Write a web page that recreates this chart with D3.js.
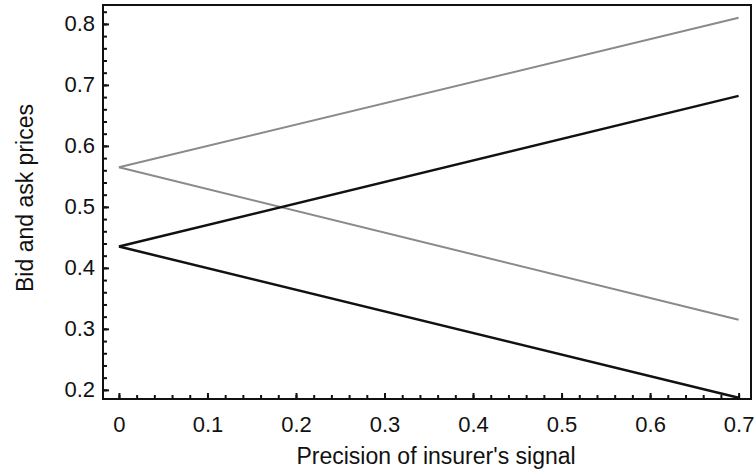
<!DOCTYPE html>
<html>
<head>
    <meta charset="utf-8">
    <title>Bid and ask prices</title>
    <script src="https://cdn.jsdelivr.net/npm/d3@7"></script>
    <style>
        body { margin: 0; background: #fff; }
        text { font-family: "Liberation Sans", Arial, Helvetica, sans-serif; fill: #111; }
    </style>
</head>
<body>
<svg id="chart" width="755" height="474"></svg>
<script>
    // precision of insurer's signal (endpoints of each straight line)
    let precision = [0, 0.7]
    // ask prices (grey) and bid prices (black)
    let askUpper = [0.565, 0.81]
    let askLower = [0.565, 0.315]
    let bidUpper = [0.435, 0.682]
    let bidLower = [0.435, 0.187]

    let xTicks = [0, 0.1, 0.2, 0.3, 0.4, 0.5, 0.6, 0.7]
    let yTicks = [0.2, 0.3, 0.4, 0.5, 0.6, 0.7, 0.8]

    let plot = {left: 103, top: 5, right: 751, bottom: 399}

    let x = d3.scaleLinear().domain([-0.018, 0.714]).range([plot.left, plot.right])
    let y = d3.scaleLinear().domain([0.185, 0.831]).range([plot.bottom, plot.top])

    let svg = d3.select("#chart")

    // series
    let series = [
        {vals: askUpper, color: "#8a8a8a", w: 2},
        {vals: askLower, color: "#8a8a8a", w: 2},
        {vals: bidUpper, color: "#111", w: 2.5},
        {vals: bidLower, color: "#111", w: 2.5}
    ]
    let line = d3.line().x((d, i) => x(precision[i])).y(d => y(d))
    svg.selectAll("path.series")
        .data(series)
        .enter()
        .append("path")
        .attr("class", "series")
        .attr("d", d => line(d.vals))
        .attr("fill", "none")
        .attr("stroke", d => d.color)
        .attr("stroke-width", d => d.w)

    // minor ticks every 0.02, major every 0.1
    let xMinor = d3.range(0, 0.7001, 0.02)
    let yMinor = d3.range(0.2, 0.8201, 0.02)

    svg.append("g")
        .attr("transform", "translate(0," + plot.bottom + ")")
        .call(d3.axisTop(x).tickValues(xMinor).tickSize(4).tickFormat(""))
        .call(g => g.select(".domain").remove())
        .selectAll("line").attr("stroke", "#111").attr("stroke-width", 2)

    svg.append("g")
        .attr("transform", "translate(" + plot.left + ",0)")
        .call(d3.axisRight(y).tickValues(yMinor).tickSize(4).tickFormat(""))
        .call(g => g.select(".domain").remove())
        .selectAll("line").attr("stroke", "#111").attr("stroke-width", 2)

    // major ticks with labels
    let xAxis = svg.append("g")
        .attr("transform", "translate(0," + plot.bottom + ")")
        .call(d3.axisTop(x).tickValues(xTicks).tickSize(6).tickFormat(d => d === 0 ? "0" : d3.format(".1f")(d)))
    xAxis.select(".domain").remove()
    xAxis.selectAll("line").attr("stroke", "#111").attr("stroke-width", 2)
    xAxis.selectAll("text")
        .attr("y", 33)
        .attr("dy", 0)
        .attr("font-size", 22)

    let yAxis = svg.append("g")
        .attr("transform", "translate(" + plot.left + ",0)")
        .call(d3.axisRight(y).tickValues(yTicks).tickSize(6).tickFormat(d3.format(".1f")))
    yAxis.select(".domain").remove()
    yAxis.selectAll("line").attr("stroke", "#111").attr("stroke-width", 2)
    yAxis.selectAll("text")
        .attr("x", -8)
        .attr("text-anchor", "end")
        .attr("font-size", 22)

    // frame
    svg.append("rect")
        .attr("x", plot.left)
        .attr("y", plot.top)
        .attr("width", plot.right - plot.left)
        .attr("height", plot.bottom - plot.top)
        .attr("fill", "none")
        .attr("stroke", "#111")
        .attr("stroke-width", 2)

    // axis titles
    svg.append("text")
        .attr("x", 436)
        .attr("y", 464)
        .attr("text-anchor", "middle")
        .attr("font-size", 23)
        .text("Precision of insurer's signal")

    svg.append("text")
        .attr("transform", "translate(33,198) rotate(-90)")
        .attr("text-anchor", "middle")
        .attr("font-size", 23)
        .text("Bid and ask prices")
</script>
</body>
</html>
